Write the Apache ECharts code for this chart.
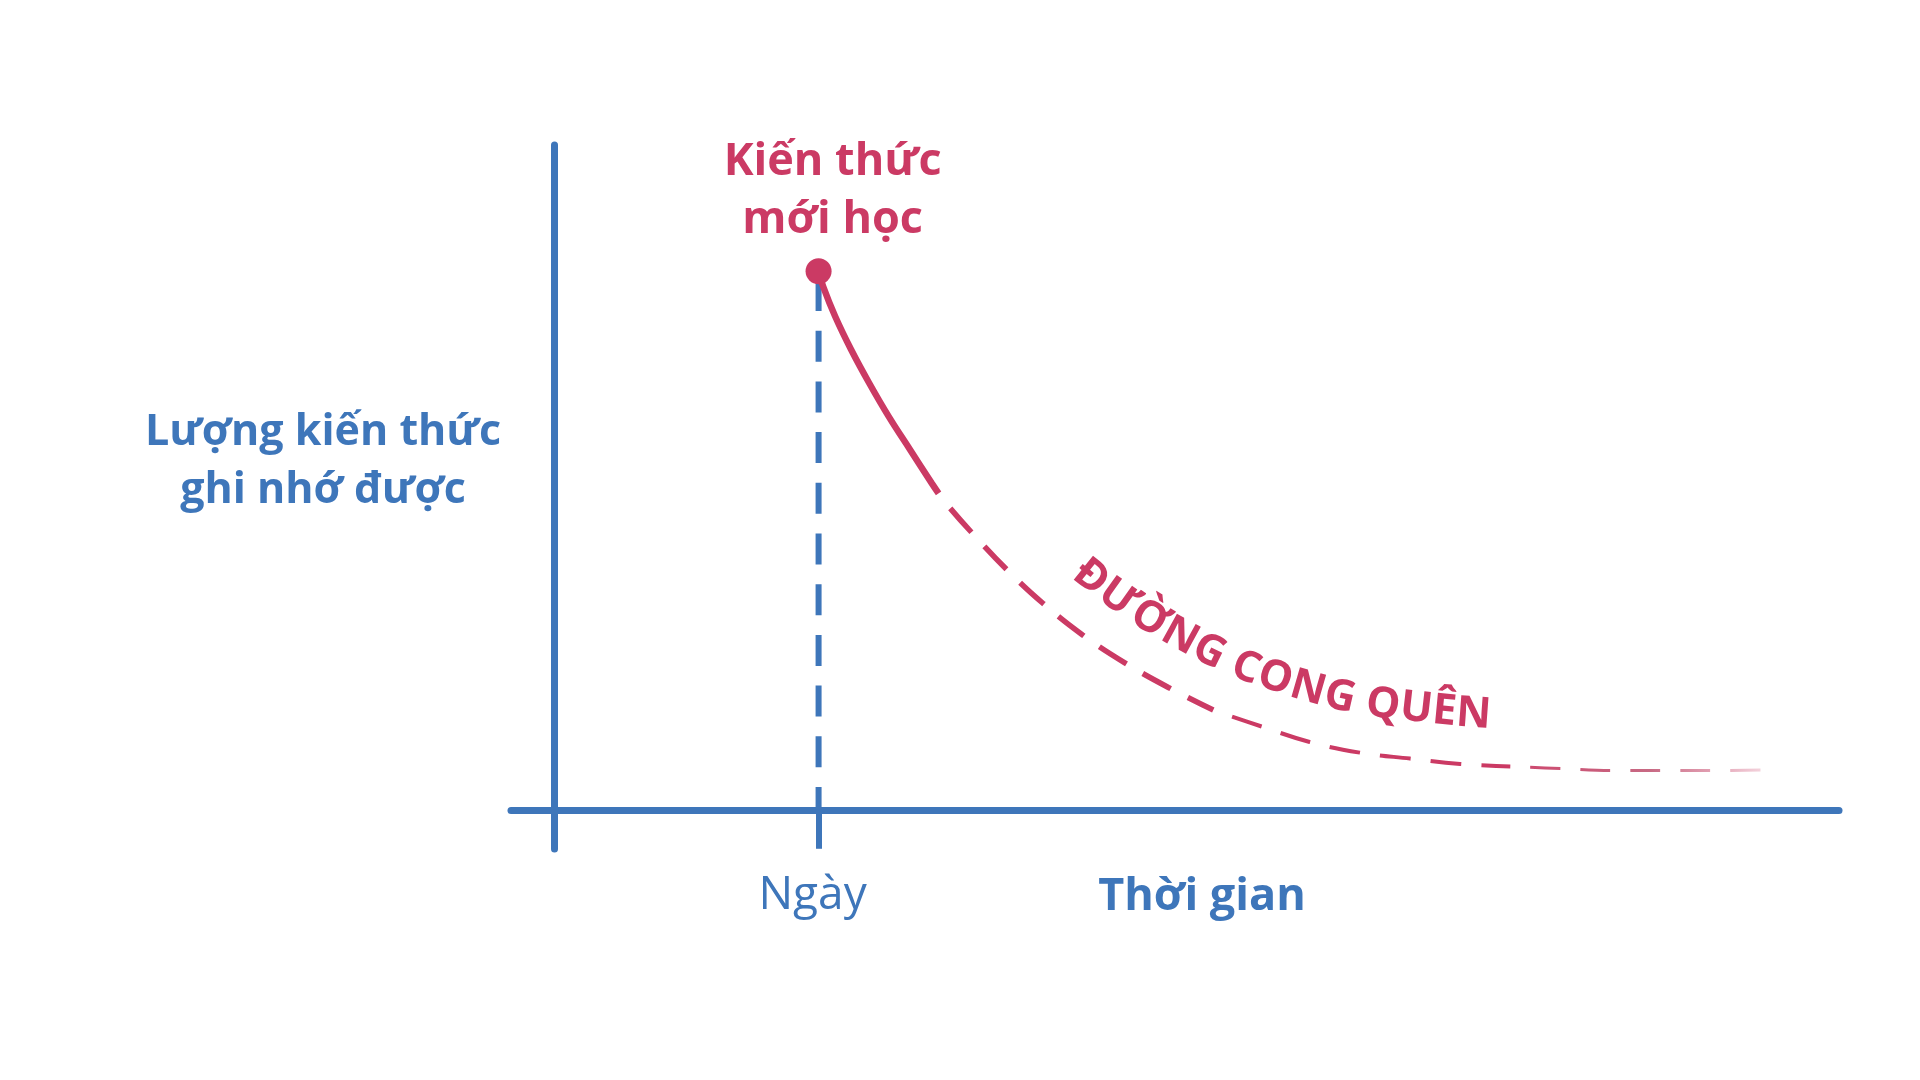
<!DOCTYPE html>
<html>
<head>
<meta charset="utf-8">
<script src="https://cdn.jsdelivr.net/npm/echarts@6/dist/echarts.min.js"></script>
<style>
html,body{margin:0;padding:0;background:#ffffff;}
#chart{width:1920px;height:1080px;}
</style>
</head>
<body>
<div id="chart"></div>
<script>
// ---------- data ----------
const xTickValues = [20];
const xTickLabels = ['Ngày'];
const xAxisName = 'Thời gian';
const yAxisName = 'Lượng kiến thức\nghi nhớ được';
const pointLabel = 'Kiến thức\nmới học';
const curveName = 'ĐƯỜNG CONG QUÊN';

const newKnowledge = [[20, 81]];
const dayLine = [[20, 81], [20, 0]];
const curveSolid = [[20, 81], [20.35, 78.7], [21.26, 74.2], [22.47, 69.2], [23.83, 64.2], [25.33, 59.1], [26.92, 54.2], [28.58, 49.1], [29.09, 47.6]];
const curveDashA = [[29.09, 47.6], [29.95, 45.4], [31.6, 41.7], [34.27, 36.1], [36.97, 31.1], [40.0, 26.3], [43.2, 22.1], [46.5, 18.4], [49.9, 15.0]];
const curveDashB = [[49.9, 15.0], [53.6, 12.5], [57.2, 10.2], [61.0, 8.6], [64.8, 7.7], [68.6, 6.9], [72.4, 6.5]];
const curveDashC = [[72.4, 6.5], [76.3, 6.2], [80.1, 5.9], [83.9, 5.9], [87.8, 5.9], [91.6, 6.0]];
const curveTextStartX = 37.2;

// ---------- style ----------
const BLUE = '#3E76BA';
const RED = '#CB3A64';
const FONT = '"Open Sans", "Noto Sans", sans-serif';

const chart = echarts.init(document.getElementById('chart'), null, {renderer: 'canvas'});

const option = {
  backgroundColor: '#ffffff',
  animation: false,
  grid: {left: 511, right: 81, top: 145, bottom: 231, containLabel: false, outerBoundsMode: 'none'},
  xAxis: {
    type: 'value', min: -3.3, max: 97.3,
    axisLine: {onZero: true, lineStyle: {color: BLUE, width: 7}},
    axisTick: {show: true, customValues: xTickValues, length: 39, lineStyle: {color: BLUE, width: 6}},
    axisLabel: {
      show: true, customValues: xTickValues, margin: 47, verticalAlign: 'middle', padding: [0, 12, 0, 0],
      formatter: function (v) { const i = xTickValues.indexOf(v); return i >= 0 ? xTickLabels[i] : ''; },
      color: BLUE, fontFamily: FONT, fontSize: 46, fontWeight: 'normal'
    },
    splitLine: {show: false}
  },
  yAxis: {
    type: 'value', min: -5.9, max: 100,
    axisLine: {onZero: true, lineStyle: {color: BLUE, width: 7}},
    axisTick: {show: false}, axisLabel: {show: false}, splitLine: {show: false}
  },
  series: [
    {type: 'line', data: dayLine, symbol: 'none', silent: true, z: 2,
     lineStyle: {color: BLUE, width: 6, type: [31, 19.7], dashOffset: 42}},
    {type: 'line', data: curveSolid, smooth: 0.4, symbol: 'none', silent: true, z: 3,
     lineStyle: {color: RED, width: 6.5}},
    {type: 'line', data: curveDashA, smooth: 0.4, symbol: 'none', silent: true, z: 3,
     lineStyle: {color: RED, width: 5.5, type: [32, 19], dashOffset: 32}},
    {type: 'line', data: curveDashB, smooth: 0.4, symbol: 'none', silent: true, z: 3,
     lineStyle: {color: RED, width: 4, type: [31, 20], dashOffset: 31}},
    {type: 'line', data: curveDashC, smooth: 0.4, symbol: 'none', silent: true, z: 3,
     lineStyle: {width: 3, type: [30, 20], dashOffset: 30,
       color: new echarts.graphic.LinearGradient(0, 0, 1, 0, [
         {offset: 0, color: 'rgba(203,58,100,0.95)'},
         {offset: 0.55, color: 'rgba(190,80,110,0.85)'},
         {offset: 1, color: 'rgba(203,58,100,0.2)'}
       ])}},
    {type: 'scatter', data: newKnowledge, symbol: 'circle', symbolSize: 26, silent: true, z: 5,
     itemStyle: {color: RED, opacity: 1},
     label: {show: true, position: 'top', distance: 9, offset: [14, 0], formatter: pointLabel,
       color: RED, opacity: 1, fontFamily: FONT, fontWeight: 'bold', fontSize: 45, lineHeight: 58}}
  ],
  graphic: [
    {type: 'text', x: 323, y: 462, silent: true,
     style: {text: yAxisName, fill: BLUE, fontFamily: FONT, fontWeight: 'bold', fontSize: 43, lineHeight: 58, align: 'center', verticalAlign: 'middle'}},
    {type: 'text', x: 1202, y: 897, silent: true,
     style: {text: xAxisName, fill: BLUE, fontFamily: FONT, fontWeight: 'bold', fontSize: 45, align: 'center', verticalAlign: 'middle'}}
  ]
};
chart.setOption(option);

// ---------- text along the curve ----------
(function () {
  const all = [].concat(curveSolid, curveDashA.slice(1), curveDashB.slice(1), curveDashC.slice(1));
  const pts = all.map(p => chart.convertToPixel({gridIndex: 0}, p));
  const dense = [];
  for (let i = 0; i < pts.length - 1; i++) {
    for (let k = 0; k < 12; k++) {
      const t = k / 12;
      dense.push([pts[i][0] + (pts[i + 1][0] - pts[i][0]) * t, pts[i][1] + (pts[i + 1][1] - pts[i][1]) * t]);
    }
  }
  dense.push(pts[pts.length - 1]);
  const n = dense.length;
  const W = 10;
  const ang = dense.map((p, i) => {
    const a = dense[Math.max(0, i - W)], b = dense[Math.min(n - 1, i + W)];
    return Math.atan2(b[1] - a[1], b[0] - a[0]);
  });
  const D = 50;
  const off = dense.map((p, i) => [p[0] + D * Math.sin(ang[i]), p[1] - D * Math.cos(ang[i])]);
  const S = [0];
  for (let i = 1; i < n; i++) S.push(S[i - 1] + Math.hypot(off[i][0] - off[i - 1][0], off[i][1] - off[i - 1][1]));
  const startPx = chart.convertToPixel({gridIndex: 0}, [curveTextStartX, 0])[0];
  let i0 = 0;
  while (i0 < n - 1 && dense[i0][0] < startPx) i0++;
  const s0 = S[i0];

  const fontSize = 43;
  const ctx = document.createElement('canvas').getContext('2d');
  ctx.font = 'bold ' + fontSize + 'px ' + FONT;

  const items = [];
  let acc = 0;
  for (const ch of curveName) {
    const w = ctx.measureText(ch).width;
    const s = s0 + acc + w / 2;
    let j = 0;
    while (j < n - 2 && S[j + 1] < s) j++;
    const t = (s - S[j]) / ((S[j + 1] - S[j]) || 1);
    const x = off[j][0] + (off[j + 1][0] - off[j][0]) * t;
    const y = off[j][1] + (off[j + 1][1] - off[j][1]) * t;
    const a = ang[j] + (ang[j + 1] - ang[j]) * t;
    if (ch.trim()) {
      items.push({type: 'text', x: x, y: y, rotation: -a, silent: true,
        style: {text: ch, fill: RED, fontFamily: FONT, fontWeight: 'bold', fontSize: fontSize, align: 'center', verticalAlign: 'middle'}});
    }
    acc += w;
  }
  chart.setOption({graphic: option.graphic.concat(items)}, {replaceMerge: ['graphic']});
})();
</script>
</body>
</html>
